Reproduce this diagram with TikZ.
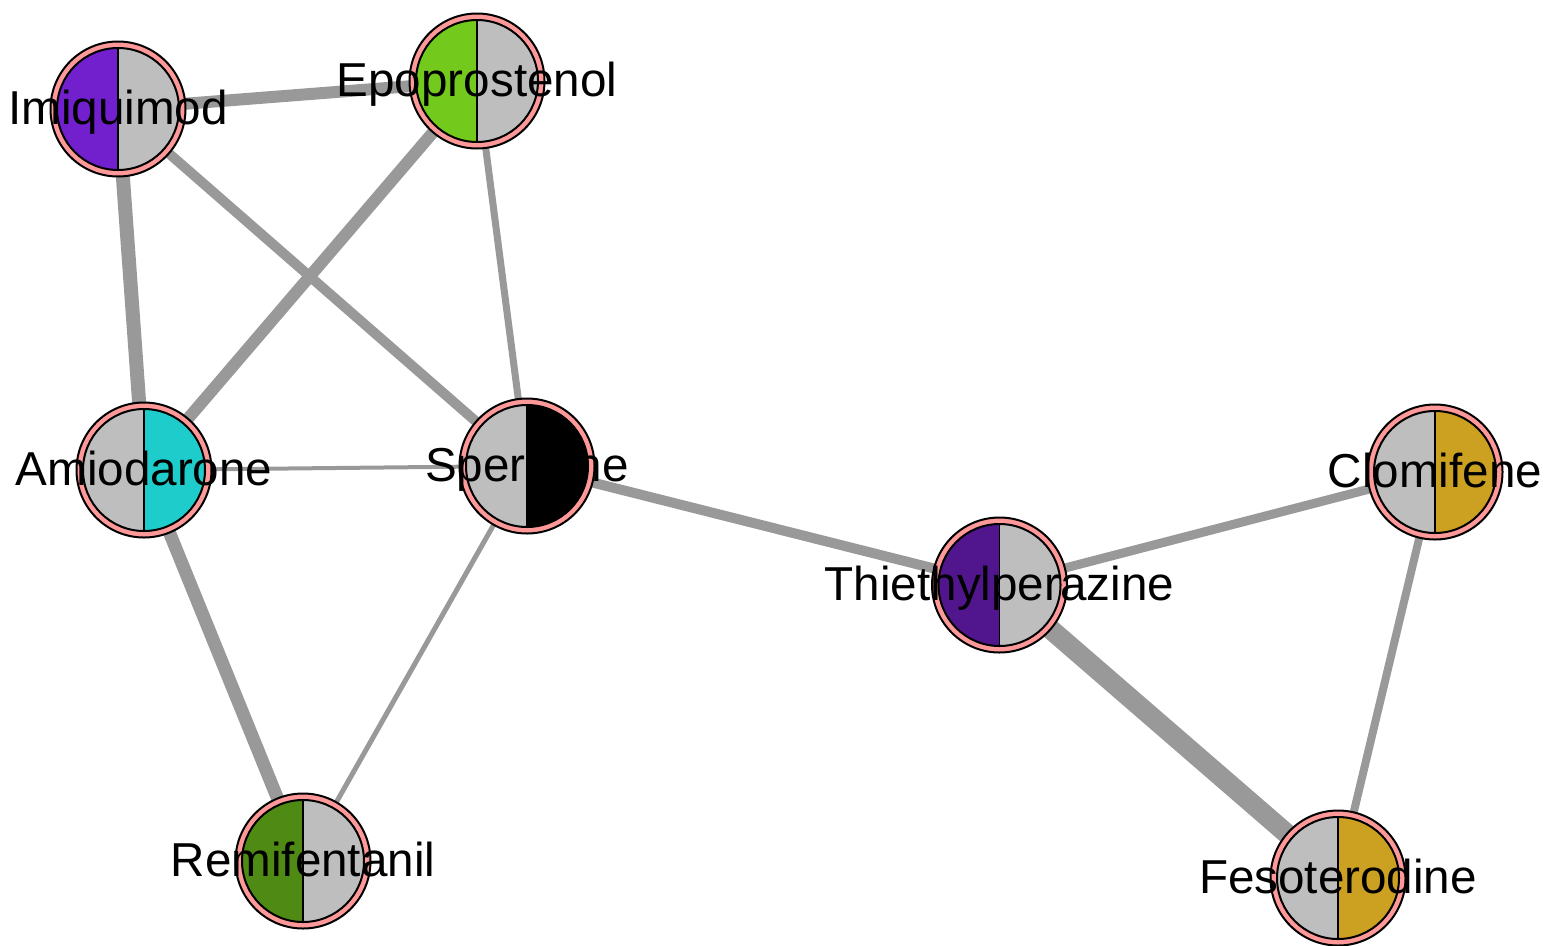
\documentclass[tikz,border=0pt]{standalone}
\usepackage{fontspec}
\setmainfont{Liberation Sans}
\usetikzlibrary{calc}
\definecolor{edgegray}{HTML}{999999}
\definecolor{halfgray}{HTML}{BEBEBE}
\definecolor{ringpink}{HTML}{FF9999}
\definecolor{cimiq}{HTML}{721FCD}
\definecolor{cepop}{HTML}{74CA1C}
\definecolor{camio}{HTML}{1FCCCC}
\definecolor{cthie}{HTML}{51168E}
\definecolor{cgold}{HTML}{CCA020}
\definecolor{cremi}{HTML}{4E8A14}
\newcommand\drugdisc[3]{%
  \fill[ringpink,draw=black,line width=2pt] (#1) circle (67.5);
  \begin{scope}
    \clip (#1) circle (61);
    \fill[#2] ($(#1)+(-63,-63)$) rectangle ($(#1)+(0,63)$);
    \fill[#3] ($(#1)+(0,-63)$) rectangle ($(#1)+(63,63)$);
  \end{scope}
  \draw[line width=2pt] (#1) circle (61);
  \draw[line width=1.4pt] ($(#1)+(0,-61)$) -- ($(#1)+(0,61)$);
}
\begin{document}
\begin{tikzpicture}[x=1pt,y=-1pt,
  edge/.style={draw=edgegray,line width=#1},
  lbl/.style={anchor=base,inner sep=0pt,font=\fontsize{47.6}{56}\selectfont}]
\useasboundingbox (0,0) rectangle (1544,945);
\coordinate (imiq) at (118,109);
\coordinate (epop) at (477,81);
\coordinate (amio) at (144,470);
\coordinate (sperm) at (527,466);
\coordinate (thie) at (999.5,585);
\coordinate (clom) at (1435,472);
\coordinate (feso) at (1338,878);
\coordinate (remi) at (303,861);
% edges
\draw[edge=12pt] (imiq) -- (epop);
\draw[edge=14pt] (imiq) -- (amio);
\draw[edge=10pt] (imiq) -- (sperm);
\draw[edge=12pt] (epop) -- (amio);
\draw[edge=7pt] (epop) -- (sperm);
\draw[edge=4pt] (amio) -- (sperm);
\draw[edge=13pt] (amio) -- (remi);
\draw[edge=5pt] (sperm) -- (remi);
\draw[edge=10pt] (sperm) -- (thie);
\draw[edge=9pt] (thie) -- (clom);
\draw[edge=20pt] (thie) -- (feso);
\draw[edge=8pt] (clom) -- (feso);
% discs
\drugdisc{imiq}{cimiq}{halfgray}
\drugdisc{epop}{cepop}{halfgray}
\drugdisc{amio}{halfgray}{camio}
\drugdisc{sperm}{halfgray}{black}
\drugdisc{thie}{cthie}{halfgray}
\drugdisc{clom}{halfgray}{cgold}
\drugdisc{feso}{halfgray}{cgold}
\drugdisc{remi}{cremi}{halfgray}
% labels
\node[lbl] (imiq-l) at ($(imiq)+(0,15.5)$) {Imiquimod};
\node[lbl] (epop-l) at ($(epop)+(0,15.5)$) {Epoprostenol};
\node[lbl] (amio-l) at ($(amio)+(0,15.5)$) {Amiodarone};
\node[lbl] (sperm-l) at ($(sperm)+(0,15.5)$) {Spermine};
\node[lbl] (thie-l) at ($(thie)+(0,15.5)$) {Thiethylperazine};
\node[lbl] (clom-l) at ($(clom)+(0,15.5)$) {Clomifene};
\node[lbl] (feso-l) at ($(feso)+(0,15.5)$) {Fesoterodine};
\node[lbl] (remi-l) at ($(remi)+(0,15.5)$) {Remifentanil};
\end{tikzpicture}
\end{document}
